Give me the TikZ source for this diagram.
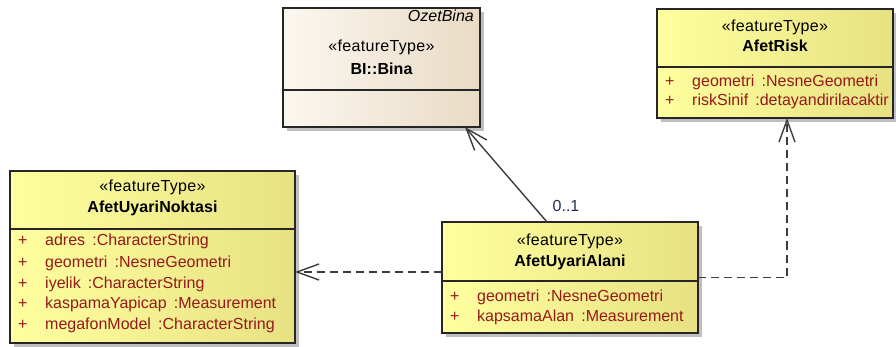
\documentclass[tikz,border=0pt]{standalone}
\usepackage{fontspec}
\setmainfont{Liberation Sans}
\usetikzlibrary{arrows.meta, positioning, shadows}
\definecolor{umlyellow}{RGB}{255, 255, 160}
\definecolor{umlolive}{RGB}{231, 225, 130}
\definecolor{beigeleft}{RGB}{251, 247, 240}
\definecolor{beigeright}{RGB}{233, 219, 197}
\definecolor{attrred}{RGB}{150, 25, 25}
\definecolor{linegray}{RGB}{60, 60, 60}
\definecolor{multblue}{RGB}{40, 48, 75}

\tikzset{
  classbox/.style={draw=black!85, line width=1.2pt, inner sep=0pt, outer sep=0pt,
    drop shadow={shadow xshift=4pt, shadow yshift=-4pt, fill=black!25, opacity=1}},
  yellowbox/.style={classbox, left color=umlyellow, right color=umlolive},
  beigebox/.style={classbox, left color=beigeleft, right color=beigeright},
  umltext/.style={font=\fontsize{16}{18}\selectfont, inner sep=0pt, text height=11.5pt, text depth=3.5pt},
  stereo/.style={umltext, font=\fontsize{16}{18}\selectfont\addfontfeature{LetterSpace=2}},
  cname/.style={umltext, font=\fontsize{16}{18}\selectfont\bfseries\addfontfeature{LetterSpace=0.5}},
  attr/.style={umltext, attrred, anchor=west},
  divider/.style={draw=black!85, line width=1.2pt},
  assoc/.style={linegray, line width=1.4pt, -{Straight Barb[length=22pt, width=16pt, line width=1.4pt]}},
  dep/.style={assoc, dash pattern=on 8pt off 5pt}
}

\begin{document}
\begin{tikzpicture}[x=1pt, y=-1pt]
  \useasboundingbox (0,0) rectangle (896,347);

  % class boxes
  \node[beigebox, minimum width=197pt, minimum height=119pt] (bina) at (381.5,67.5) {};
  \node[yellowbox, minimum width=236pt, minimum height=109pt] (risk) at (775,63.5) {};
  \node[yellowbox, minimum width=285pt, minimum height=172pt] (nokta) at (152.5,257) {};
  \node[yellowbox, minimum width=256pt, minimum height=111pt] (alan) at (570,277.5) {};

  % compartment lines
  \draw[divider] (bina.west |- 0,90) -- (bina.east |- 0,90);
  \draw[divider] (risk.west |- 0,67) -- (risk.east |- 0,67);
  \draw[divider] (nokta.west |- 0,229) -- (nokta.east |- 0,229);
  \draw[divider] (alan.west |- 0,281) -- (alan.east |- 0,281);

  % BI::Bina (abstract)
  \node[umltext, anchor=east, font=\fontsize{16}{18}\selectfont\itshape] (binaAbs) at (474,18) {OzetBina};
  \node[stereo] (binaSt) at (381.5,48) {«featureType»};
  \node[cname] (binaName) at (381.5,71) {BI::Bina};

  % AfetRisk
  \node[stereo] (riskSt) at (775,28) {«featureType»};
  \node[cname] (riskName) at (775,48) {AfetRisk};
  \node[attr] (riskP1) at (665,83) {+};
  \node[attr] (riskA1) at (692,83) {geometri\hspace{0.45em}:NesneGeometri};
  \node[attr] (riskP2) at (665,102) {+};
  \node[attr] (riskA2) at (692,102) {riskSinif\hspace{0.45em}:detayandirilacaktir};

  % AfetUyariNoktasi
  \node[stereo] (noktaSt) at (152.5,188) {«featureType»};
  \node[cname] (noktaName) at (152.5,209) {AfetUyariNoktasi};
  \node[attr] (noktaP1) at (18,242) {+};
  \node[attr] (noktaA1) at (45,242) {adres\hspace{0.45em}:CharacterString};
  \node[attr] (noktaP2) at (18,263) {+};
  \node[attr] (noktaA2) at (45,263) {geometri\hspace{0.45em}:NesneGeometri};
  \node[attr] (noktaP3) at (18,284) {+};
  \node[attr] (noktaA3) at (45,284) {iyelik\hspace{0.45em}:CharacterString};
  \node[attr] (noktaP4) at (18,304) {+};
  \node[attr] (noktaA4) at (45,304) {kaspamaYapicap\hspace{0.45em}:Measurement};
  \node[attr] (noktaP5) at (18,325) {+};
  \node[attr] (noktaA5) at (45,325) {megafonModel\hspace{0.45em}:CharacterString};

  % AfetUyariAlani
  \node[stereo] (alanSt) at (570,241) {«featureType»};
  \node[cname] (alanName) at (570,262) {AfetUyariAlani};
  \node[attr] (alanP1) at (450,297) {+};
  \node[attr] (alanA1) at (477,297) {geometri\hspace{0.45em}:NesneGeometri};
  \node[attr] (alanP2) at (450,317) {+};
  \node[attr] (alanA2) at (477,317) {kapsamaAlan\hspace{0.45em}:Measurement};

  % association to BI::Bina
  \draw[assoc] ([xshift=-23pt]alan.north) -- ([xshift=83.5pt]bina.south);
  \node[umltext, multblue] (mult) at (566,208) {0..1};

  % dependencies
  \coordinate (depL) at ([yshift=5.5pt]alan.west);
  \draw[dep] (depL) -- (depL -| nokta.east);
  \draw[dep] (alan.east) -| ([xshift=12pt]risk.south);
\end{tikzpicture}
\end{document}
